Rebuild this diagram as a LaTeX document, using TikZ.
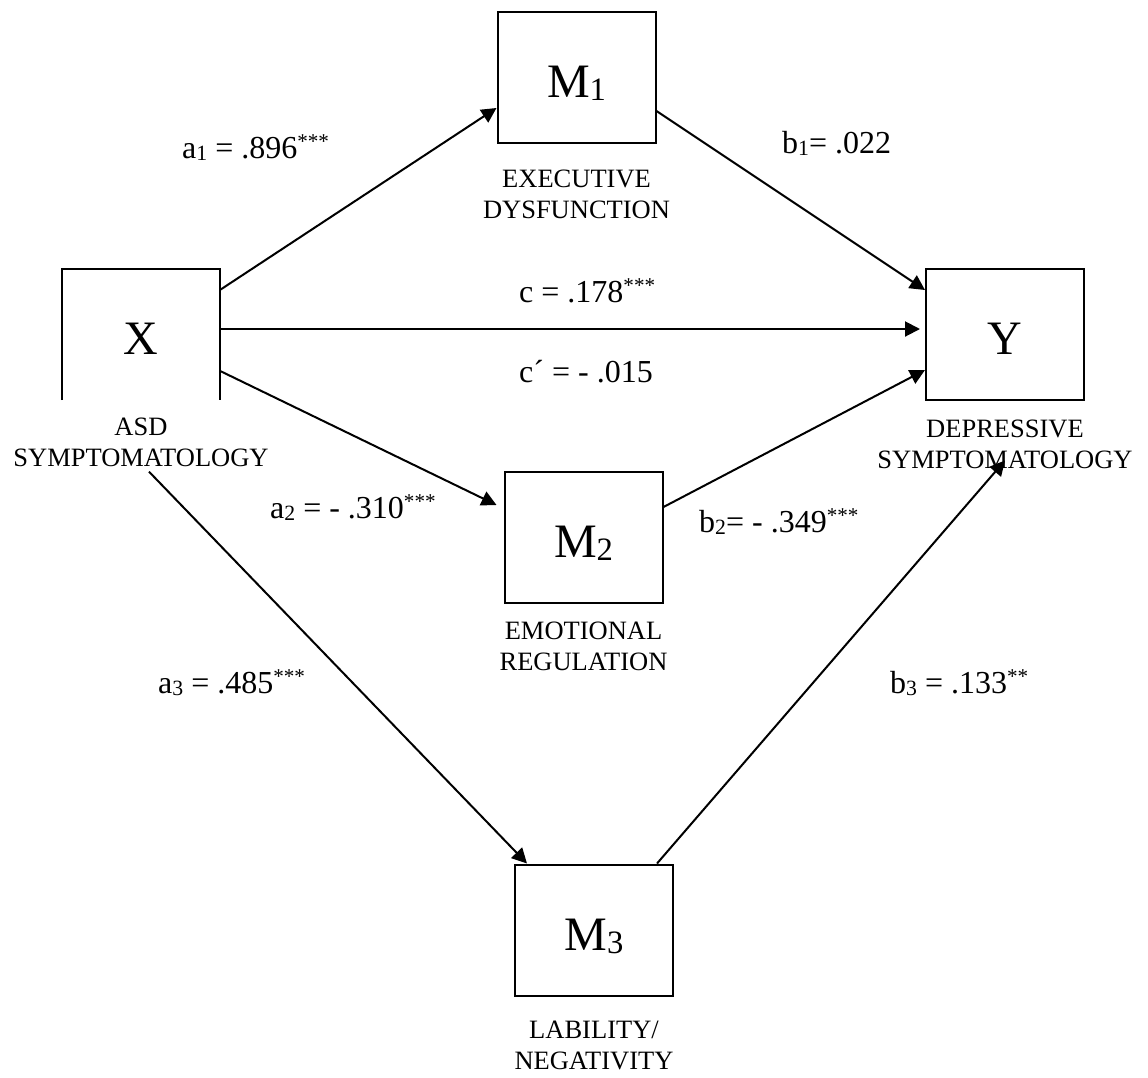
\documentclass[tikz,border=0pt]{standalone}
\usepackage{fontspec}
\usepackage{graphicx}
\setmainfont{Liberation Serif}
\usetikzlibrary{arrows.meta}
\newcommand\sbs[1]{\raisebox{-0.07em}{\scalebox{0.68}{#1}}}
\newcommand\sps[1]{\raisebox{0.3em}{\scalebox{0.66}{#1}}}
\begin{document}
\begin{tikzpicture}[x=1pt,y=-1pt,
  boxbase/.style={minimum width=158pt, minimum height=131pt, inner sep=0pt,
    font=\fontsize{48}{48}\selectfont, text height=40pt, text depth=0pt},
  varbox/.style={boxbase, draw, line width=2pt},
  captext/.style={font=\fontsize{26.5}{31}\selectfont, align=center, inner sep=0pt, anchor=base},
  lab/.style={font=\fontsize{32}{38}\selectfont, inner sep=0pt, anchor=base west},
  arr/.style={line width=2pt, -{Triangle[length=15pt,width=15pt]}}]
\useasboundingbox (0,0) rectangle (1148,1077);

\node[boxbase] (X) at (141,334.5) {X};
\draw[line width=2pt] (X.south west) -- (X.north west) -- (X.north east) -- (X.south east);
\node[varbox] (Y) at (1005,334.5) {Y};
\node[varbox] (M1) at (576.5,77.5) {M\sbs{1}};
\node[varbox] (M2) at (583.5,537) {M\sbs{2}};
\node[varbox] (M3) at (594,930) {M\sbs{3}};

\node[captext] (xcap) at ([yshift=-66pt]X.south) {ASD\\SYMPTOMATOLOGY};
\node[captext] (ycap) at ([yshift=-67pt]Y.south) {DEPRESSIVE\\SYMPTOMATOLOGY};
\node[captext] (m1cap) at ([yshift=-74pt]M1.south) {EXECUTIVE\\DYSFUNCTION};
\node[captext] (m2cap) at ([yshift=-67pt]M2.south) {EMOTIONAL\\REGULATION};
\node[captext] (m3cap) at ([yshift=-73pt]M3.south) {LABILITY/\\NEGATIVITY};

\draw[arr] ([yshift=-21pt]X.north east) -- ([yshift=-30.5pt]M1.west);
\draw[arr] ([yshift=-33.5pt]M1.east) -- ([yshift=44.5pt]Y.west);
\draw[arr, shorten >=5pt] ([yshift=5.5pt]X.east) -- ([yshift=5.5pt]Y.west);
\draw[arr] ([yshift=-36.5pt]X.east) -- ([xshift=-7pt,yshift=32pt]M2.west);
\draw[arr] ([yshift=30pt]M2.east) -- ([yshift=-35.5pt]Y.west);
\draw[arr] ([xshift=8pt,yshift=-5pt]xcap.south) -- ([xshift=13pt]M3.north west);
\draw[arr] ([xshift=-17pt]M3.north east) -- ([yshift=8pt]ycap.south);

\node[lab] (la1) at (182,158) {a\sbs{1} = .896\sps{***}};
\node[lab] (lb1) at (782,153) {b\sbs{1}= .022};
\node[lab] (lc) at (519,302) {c = .178\sps{***}};
\node[lab] (lcp) at (519,382) {c´ = - .015};
\node[lab] (la2) at (270,518) {a\sbs{2} = - .310\sps{***}};
\node[lab] (lb2) at (699,532) {b\sbs{2}= - .349\sps{***}};
\node[lab] (la3) at (158,693) {a\sbs{3} = .485\sps{***}};
\node[lab] (lb3) at (890,693) {b\sbs{3} = .133\sps{**}};
\end{tikzpicture}
\end{document}
